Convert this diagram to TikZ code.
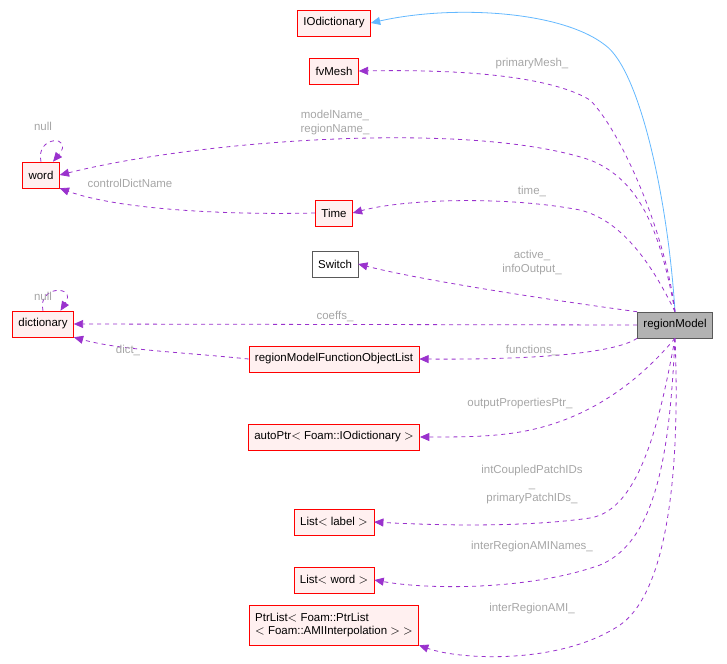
\documentclass[tikz,border=0pt]{standalone}
\usepackage{fontspec}
\setmainfont{Liberation Sans}
\usetikzlibrary{arrows.meta}
\definecolor{edgepurple}{HTML}{9A32CD}
\definecolor{edgeblue}{HTML}{63B8FF}
\definecolor{boxfill}{HTML}{FFF0F0}
\tikzset{
  cls/.style={draw=red,fill=boxfill,inner xsep=4.5pt,inner ysep=2pt,minimum height=19.5pt,font=\fontsize{8.6}{10}\selectfont,align=center},
  use/.style={draw=edgepurple,dashed,line width=0.6pt,-{Triangle[length=7pt,width=6pt]}},
  inh/.style={draw=edgeblue,line width=0.6pt,-{Triangle[length=7pt,width=6pt]}},
  lbl/.style={text=gray!70,font=\fontsize{8.6}{10.5}\selectfont,align=center}
}
\begin{document}
\begin{tikzpicture}[x=0.75pt,y=-0.75pt]
  \path[use as bounding box] (0,0) rectangle (727,663);
  % classes
  \node[cls] (iodict) at (334,23) {IOdictionary};
  \node[cls] (mesh) at (334,71) {fvMesh};
  \node[cls] (word) at (41,175) {word};
  \node[cls] (time) at (334,213) {Time};
  \node[cls,draw=gray!70!black,fill=white] (switch) at (335,264) {Switch};
  \node[cls] (dict) at (43,324) {dictionary};
  \node[cls,draw=gray!70!black,fill=gray!60] (rm) at (675,325) {regionModel};
  \node[cls] (fol) at (334,359) {regionModelFunctionObjectList};
  \node[cls] (autop) at (334,437) {autoPtr$<$ Foam::IOdictionary $>$};
  \node[cls] (llabel) at (334,522) {List$<$ label $>$};
  \node[cls] (lword) at (334,580) {List$<$ word $>$};
  \node[cls,minimum height=30pt,align=left] (ptrl) at (334,625) {PtrList$<$ Foam::PtrList\\$<$ Foam::AMIInterpolation $>$ $>$};
  % connectors
  \draw[inh] (rm.north) .. controls (668,200) and (640,70) .. (605,45) .. controls (560,10) and (450,5) .. (iodict.east);
  \draw[use] (rm.north) .. controls (665,230) and (620,130) .. (590,100) .. controls (540,70) and (420,70) .. (mesh.east);
  \draw[use] (rm.north) .. controls (660,230) and (640,180) .. (590,160) .. controls (470,120) and (200,140) .. (word.east);
  \draw[use] (time.west) .. controls (230,215) and (120,210) .. (word.south east);
  \draw[use] (word.north) .. controls (35,135) and (75,135) .. ([xshift=-5pt]word.north east);
  \draw[use] (rm.north) .. controls (650,260) and (620,220) .. (580,210) .. controls (500,195) and (400,200) .. (time.east);
  \draw[use] (rm.north west) .. controls (550,300) and (420,280) .. (switch.east);
  \draw[use] (dict.north) .. controls (37,285) and (77,285) .. ([xshift=-10pt]dict.north east);
  \draw[use] (rm.west) -- (dict.east);
  \draw[use] (fol.west) .. controls (180,352) and (120,350) .. (dict.south east);
  \draw[use] (rm.south west) .. controls (620,350) and (560,360) .. (fol.east);
  \draw[use] (rm.south) .. controls (640,380) and (590,420) .. (520,432) .. controls (490,437) and (460,437) .. (autop.east);
  \draw[use] (rm.south) .. controls (660,420) and (640,510) .. (590,518) .. controls (520,528) and (430,525) .. (llabel.east);
  \draw[use] (rm.south) .. controls (670,440) and (660,540) .. (600,565) .. controls (530,590) and (430,590) .. (lword.east);
  \draw[use] (rm.south) .. controls (680,460) and (670,590) .. (620,625) .. controls (560,665) and (460,660) .. (ptrl.south east);
  % labels
  \node[lbl] (lmesh) at (532,64) {primaryMesh\_};
  \node[lbl] (lname) at (335,123) {modelName\_\\regionName\_};
  \node[lbl] (lnull1) at (43,126) {null};
  \node[lbl] (lctrl) at (130,183) {controlDictName};
  \node[lbl] (ltime) at (532,191) {time\_};
  \node[lbl] (lact) at (532,263) {active\_\\infoOutput\_};
  \node[lbl] (lnull2) at (43,296) {null};
  \node[lbl] (lcoeffs) at (335,316) {coeffs\_};
  \node[lbl] (ldict) at (128,350) {dict\_};
  \node[lbl] (lfun) at (532,350) {functions\_};
  \node[lbl] (lout) at (520,404) {outputPropertiesPtr\_};
  \node[lbl] (lpatch) at (532,485) {intCoupledPatchIDs\\\_\\primaryPatchIDs\_};
  \node[lbl] (lnames) at (532,547) {interRegionAMINames\_};
  \node[lbl] (lami) at (532,609) {interRegionAMI\_};
\end{tikzpicture}
\end{document}
